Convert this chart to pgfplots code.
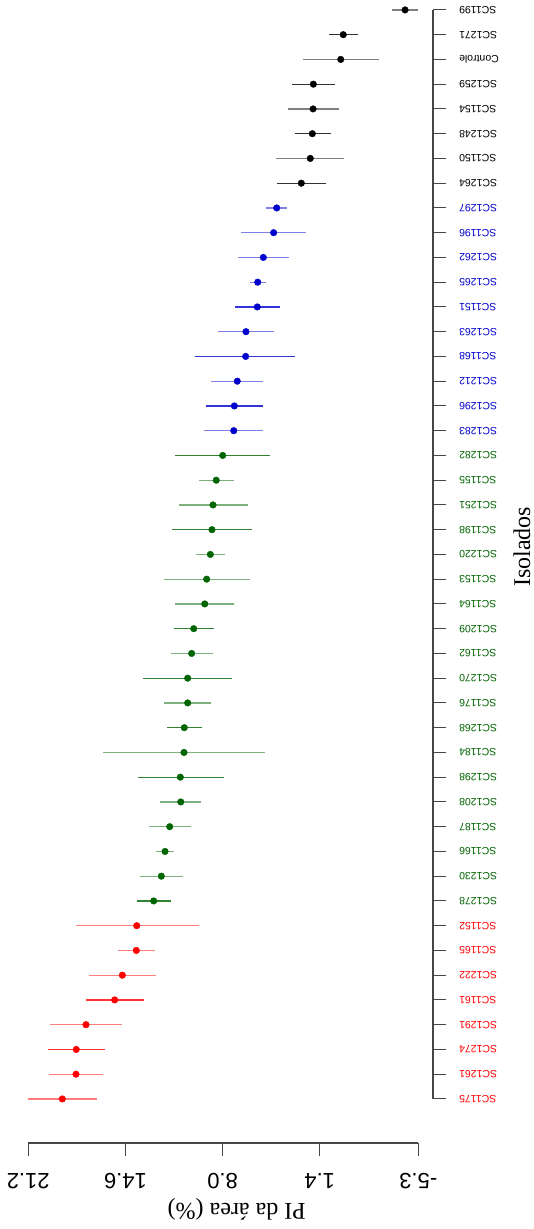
\documentclass[border=0pt]{standalone}
\usepackage{pgfplots}
\pgfplotsset{compat=1.18}
\usepackage{pgfplotstable}
\usepackage{fontspec}
\setmainfont{Liberation Serif}
\newfontfamily\sansf{Liberation Sans}

\definecolor{cblue}{RGB}{0,0,205}
\definecolor{cgreen}{RGB}{0,100,0}
\definecolor{cred}{RGB}{255,0,0}
\definecolor{caxis}{RGB}{70,70,70}

% y = row position (45 = top), c = mean, lo/hi = interval, d = darker bar
\pgfplotstableread{
y c lo hi d
45 -4.40 -5.30 -3.49 0
44 -0.20 -1.22 0.77 1
43 -0.03 -2.63 2.51 0
42 1.83 0.36 3.30 1
41 1.85 0.09 3.57 0
40 1.90 0.63 3.08 1
39 2.04 -0.27 4.37 0
38 2.65 0.99 4.32 1
}\grpblack
\pgfplotstableread{
y c lo hi d
37 4.32 3.62 5.05 0
36 4.53 2.33 6.73 0
35 5.23 3.49 6.95 0
34 5.61 5.05 6.16 0
33 5.64 4.12 7.16 1
32 6.41 4.51 8.29 0
31 6.43 3.06 9.85 1
30 7.00 5.23 8.77 0
29 7.20 5.25 9.15 1
28 7.24 5.23 9.26 0
}\grpblue
\pgfplotstableread{
y c lo hi d
27 7.99 4.78 11.21 1
26 8.43 7.22 9.60 0
25 8.65 6.29 10.98 0
24 8.72 6.00 11.44 1
23 8.83 7.83 9.83 0
22 9.08 6.16 12.00 0
21 9.21 7.20 11.21 0
20 9.96 8.60 11.32 1
19 10.10 8.67 11.48 0
18 10.37 7.34 13.39 1
17 10.37 8.77 11.98 0
16 10.60 9.42 11.78 1
15 10.62 5.12 16.10 0
14 10.87 7.88 13.77 1
13 10.84 9.45 12.23 0
12 11.59 10.12 13.02 0
11 11.91 11.28 12.54 0
10 12.16 10.67 13.63 0
9 12.68 11.50 13.83 1
}\grpgreen
\pgfplotstableread{
y c lo hi d
8 13.83 9.60 17.98 0
7 13.86 12.59 15.08 0
6 14.81 12.52 17.10 0
5 15.33 13.34 17.30 1
4 17.28 14.81 19.75 0
3 17.94 15.97 19.84 1
2 17.96 16.10 19.79 0
1 18.89 16.53 21.20 0
}\grpred

% interval bars of one group, light (#3=0) or dark (#3=1)
\newcommand{\intervals}[4]{%
  \addplot[only marks, mark=none, forget plot,
    restrict expr to domain={\thisrow{d}}{#3:#3},
    error bars/.cd, x dir=both, x explicit, error mark=none,
    error bar style={draw=#2, line width=1.2bp, opacity=#4}]
    table[x=c, y=y,
      x error plus expr=\thisrow{hi}-\thisrow{c},
      x error minus expr=\thisrow{c}-\thisrow{lo}] {#1};
}
\newcommand{\means}[2]{%
  \addplot[only marks, mark=*, mark size=3.3bp, color=#2, forget plot]
    table[x=c, y=y] {#1};
}

\begin{document}
\begin{tikzpicture}
\begin{axis}[
  at={(433bp,86bp)}, anchor=south east,
  scale only axis, width=413bp, height=1142.96bp,
  x dir=reverse,
  xmin=-6.299, xmax=21.764, ymin=-0.78, ymax=45.4,
  axis x line*=bottom, axis y line*=right,
  axis line style={draw=none},
  clip=false,
  xtick={-5.3,1.4,8.0,14.6,21.2},
  xticklabels={-5.3,1.4,8.0,14.6,21.2},
  ytick={1,...,45},
  yticklabels={
    \textcolor{cred}{SC1175},\textcolor{cred}{SC1261},\textcolor{cred}{SC1274},
    \textcolor{cred}{SC1291},\textcolor{cred}{SC1161},\textcolor{cred}{SC1222},
    \textcolor{cred}{SC1165},\textcolor{cred}{SC1152},
    \textcolor{cgreen}{SC1278},\textcolor{cgreen}{SC1230},\textcolor{cgreen}{SC1166},
    \textcolor{cgreen}{SC1187},\textcolor{cgreen}{SC1208},\textcolor{cgreen}{SC1298},
    \textcolor{cgreen}{SC1184},\textcolor{cgreen}{SC1268},\textcolor{cgreen}{SC1176},
    \textcolor{cgreen}{SC1270},\textcolor{cgreen}{SC1162},\textcolor{cgreen}{SC1209},
    \textcolor{cgreen}{SC1164},\textcolor{cgreen}{SC1153},\textcolor{cgreen}{SC1220},
    \textcolor{cgreen}{SC1198},\textcolor{cgreen}{SC1251},\textcolor{cgreen}{SC1155},
    \textcolor{cgreen}{SC1282},
    \textcolor{cblue}{SC1283},\textcolor{cblue}{SC1296},\textcolor{cblue}{SC1212},
    \textcolor{cblue}{SC1168},\textcolor{cblue}{SC1263},\textcolor{cblue}{SC1151},
    \textcolor{cblue}{SC1265},\textcolor{cblue}{SC1262},\textcolor{cblue}{SC1196},
    \textcolor{cblue}{SC1297},
    SC1264,SC1150,SC1248,SC1154,SC1259,Controle,SC1271,SC1199},
  tick align=outside,
  major tick length=13bp,
  tick style={caxis, line width=1.1bp},
  xticklabel style={rotate=180, anchor=base, inner sep=0pt,
    font=\sansf\fontsize{22bp}{22bp}\selectfont},
  xticklabel shift=17bp,
  yticklabel style={rotate=180, anchor=east, inner sep=0pt,
    font=\sansf\fontsize{10.5bp}{10.5bp}\selectfont},
  yticklabel shift=13bp,
  xlabel={PI da área (\%)},
  xlabel style={at={(axis description cs:0.5247,-0.0577)}, anchor=center,
    rotate=180, font=\fontsize{24bp}{24bp}\selectfont},
  ylabel={Isolados},
  ylabel style={at={(axis description cs:1.2155,0.5215)}, anchor=center,
    inner sep=0pt, font=\fontsize{24bp}{24bp}\selectfont},
]
  % axis lines spanning the tick range only
  \draw[caxis, line width=1.1bp] (axis cs:-5.3,-0.78) -- (axis cs:21.2,-0.78);
  \draw[caxis, line width=1.1bp] (axis cs:-6.299,1) -- (axis cs:-6.299,45);

  \intervals{\grpblack}{black}{0}{0.5}
  \intervals{\grpblack}{black}{1}{0.8}
  \intervals{\grpblue}{cblue}{0}{0.5}
  \intervals{\grpblue}{cblue}{1}{0.8}
  \intervals{\grpgreen}{cgreen}{0}{0.5}
  \intervals{\grpgreen}{cgreen}{1}{0.8}
  \intervals{\grpred}{cred}{0}{0.5}
  \intervals{\grpred}{cred}{1}{0.8}

  \means{\grpblack}{black}
  \means{\grpblue}{cblue}
  \means{\grpgreen}{cgreen}
  \means{\grpred}{cred}
\end{axis}
\pgfresetboundingbox
\path[use as bounding box] (0,0) rectangle (534bp,1229bp);
\end{tikzpicture}
\end{document}
